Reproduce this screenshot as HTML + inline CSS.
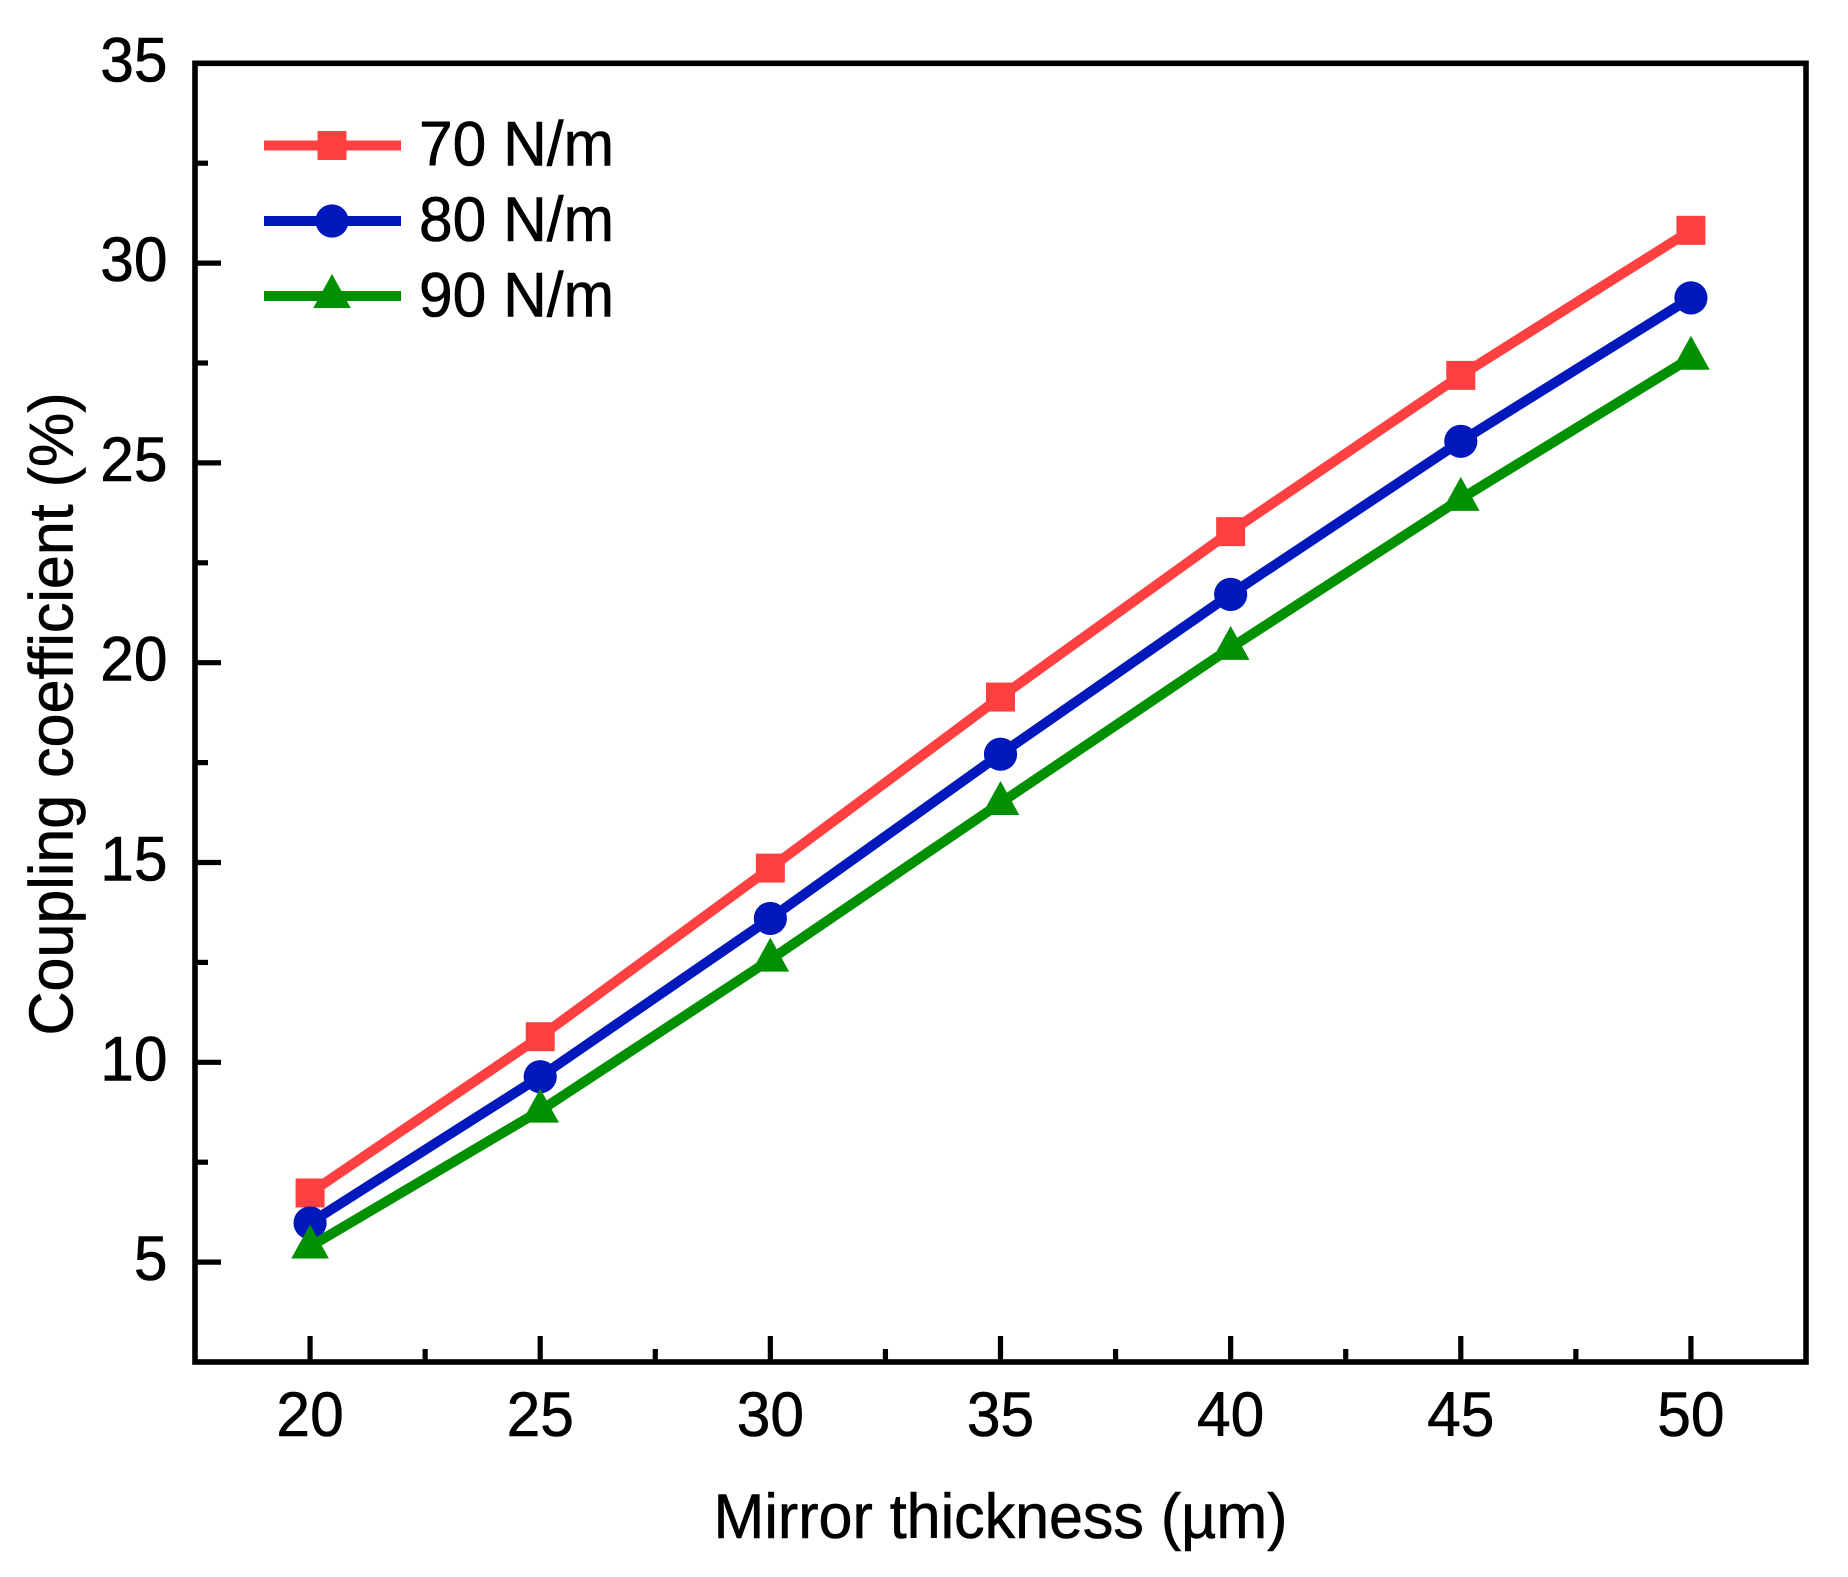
<!DOCTYPE html>
<html lang="en">
<head>
<meta charset="utf-8">
<title>Coupling coefficient vs mirror thickness</title>
<style>
html,body{margin:0;padding:0;background:#fff;}
svg{display:block;}
text{font-family:"Liberation Sans",Arial,sans-serif;fill:#000;stroke:#000;stroke-width:0.6px;}
</style>
</head>
<body>
<svg id="chart" xmlns="http://www.w3.org/2000/svg" width="1848" height="1577" viewBox="0 0 1848 1577"></svg>
<script>
const categories = [20, 25, 30, 35, 40, 45, 50];
const values70 = [6.73, 10.64, 14.86, 19.14, 23.28, 27.19, 30.82];
const values80 = [5.98, 9.64, 13.6, 17.71, 21.71, 25.54, 29.13];
const values90 = [5.39, 8.79, 12.57, 16.49, 20.37, 24.1, 27.63];
const xTickLabels = [20, 25, 30, 35, 40, 45, 50];
const yTickLabels = [5, 10, 15, 20, 25, 30, 35];
const xMinorTicks = [22.5, 27.5, 32.5, 37.5, 42.5, 47.5];
const yMinorTicks = [7.5, 12.5, 17.5, 22.5, 27.5, 32.5];
const seriesNames = ['70 N/m', '80 N/m', '90 N/m'];

const NS = 'http://www.w3.org/2000/svg';
const svg = document.getElementById('chart');
const LEFT = 195, RIGHT = 1806, TOP = 63.3, BOTTOM = 1362;
const X_MIN = 17.5, X_MAX = 52.5, Y_MIN = 2.5, Y_MAX = 35;
const FONT = 60.5;
const TITLE_FONT = 61;
const Y_STRETCH = 1.04;
function xs(v) { return LEFT + (v - X_MIN) / (X_MAX - X_MIN) * (RIGHT - LEFT); }
function ys(v) { return BOTTOM - (v - Y_MIN) / (Y_MAX - Y_MIN) * (BOTTOM - TOP); }
function mk(tag, attrs, parent) {
  const el = document.createElementNS(NS, tag);
  for (const k in attrs) el.setAttribute(k, attrs[k]);
  (parent || svg).appendChild(el);
  return el;
}
function place(x, y) { return 'translate(' + x + ' ' + y + ') scale(1 ' + Y_STRETCH + ')'; }
function drawMarker(kind, x, y, color, parent) {
  let el;
  if (kind === 'square') {
    el = mk('rect', { x: x - 14.5, y: y - 14.5, width: 29, height: 29, fill: color }, parent);
  } else if (kind === 'circle') {
    el = mk('circle', { cx: x, cy: y, r: 16.6, fill: color }, parent);
  } else {
    el = mk('polygon', { points: (x) + ',' + (y - 22) + ' ' + (x + 18.8) + ',' + (y + 12) + ' ' + (x - 18.8) + ',' + (y + 12), fill: color }, parent);
  }
  return el;
}

const frame = mk('rect', { x: LEFT, y: TOP, width: RIGHT - LEFT, height: BOTTOM - TOP, fill: 'none', stroke: '#000', 'stroke-width': 5.6, 'stroke-linejoin': 'miter' });



const MAJOR = 26, MINOR = 13, TW = 5.2;
xTickLabels.forEach(function (v) {
  const t = mk('line', { x1: xs(v), x2: xs(v), y1: BOTTOM, y2: BOTTOM - MAJOR, stroke: '#000', 'stroke-width': TW });
  
  
  const l = mk('text', { transform: place(xs(v), 1436), 'font-size': FONT, 'text-anchor': 'middle' });
  l.textContent = v;
  
  
});
xMinorTicks.forEach(function (v) {
  const t = mk('line', { x1: xs(v), x2: xs(v), y1: BOTTOM, y2: BOTTOM - MINOR, stroke: '#000', 'stroke-width': TW });
  
  
});
yTickLabels.forEach(function (v) {
  const t = mk('line', { x1: LEFT, x2: LEFT + MAJOR, y1: ys(v), y2: ys(v), stroke: '#000', 'stroke-width': TW });
  
  
  const l = mk('text', { transform: place(167.5, ys(v) + 18), 'font-size': FONT, 'text-anchor': 'end' });
  l.textContent = v;
  
  
});
yMinorTicks.forEach(function (v) {
  const t = mk('line', { x1: LEFT, x2: LEFT + MINOR, y1: ys(v), y2: ys(v), stroke: '#000', 'stroke-width': TW });
  
  
});

const xTitle = mk('text', { transform: place(1000.5, 1538), 'font-size': TITLE_FONT, 'text-anchor': 'middle' });
xTitle.textContent = 'Mirror thickness (\u00B5m)';



const yTitle = mk('text', { transform: 'translate(72.7 714) rotate(-90) scale(1 1.02)', 'font-size': TITLE_FONT, 'text-anchor': 'middle' });
yTitle.textContent = 'Coupling coefficient (%)';



const allSeries = [values70, values80, values90];
const colors = ['#FF4040', '#0018BC', '#009000'];
const kinds = ['square', 'circle', 'triangle'];
const seriesLabels = ['series-70-n-m', 'series-80-n-m', 'series-90-n-m'];

allSeries.forEach(function (vals, i) {
  const g = mk('g', {});
  
  
  const pts = vals.map(function (v, j) { return xs(categories[j]) + ',' + ys(v); }).join(' ');
  const line = mk('polyline', { points: pts, fill: 'none', stroke: colors[i], 'stroke-width': 10, 'stroke-linejoin': 'miter' }, g);
  
  
  vals.forEach(function (v, j) {
    const m = drawMarker(kinds[i], xs(categories[j]), ys(v), colors[i], g);
    
    
  });
});

const legendY = [145.5, 221, 296];
const legendBase = [165.7, 241, 316.7];
const legend = mk('g', {});


seriesNames.forEach(function (name, i) {
  const g = mk('g', {}, legend);
  
  
  const sw = mk('line', { x1: 264, x2: 401, y1: legendY[i], y2: legendY[i], stroke: colors[i], 'stroke-width': 10 }, g);
  
  
  const mm = drawMarker(kinds[i], 332, legendY[i], colors[i], g);
  
  
  const t = mk('text', { transform: place(419, legendBase[i]), 'font-size': FONT }, g);
  t.textContent = name;
  
  
});
</script>
</body>
</html>
